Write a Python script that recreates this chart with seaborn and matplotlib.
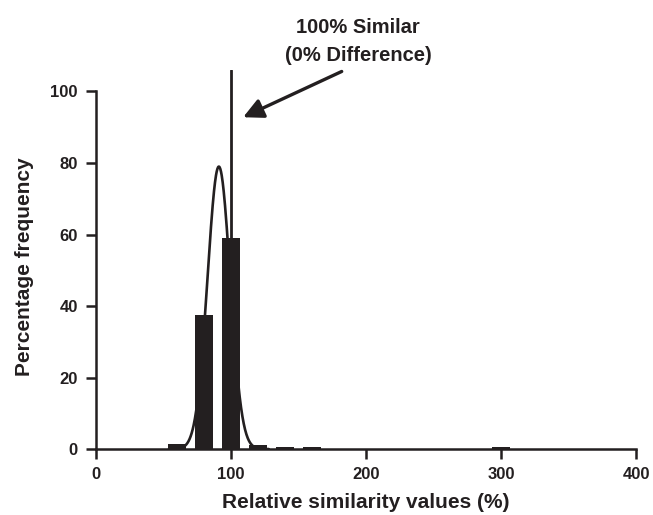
import numpy as np
import pandas as pd
import seaborn as sns
import matplotlib.pyplot as plt

# histogram bins (centres, %) and percentage frequency
bin_centres = [60, 80, 100, 120, 140, 160, 300]
pct_freq = [1.5, 37.5, 59.0, 1.1, 0.7, 0.7, 0.7]

# gaussian fit drawn over the bars (peak height, centre, sd)
fit_peak = 79.0
fit_centre = 91.0
fit_sd = 8.4

x_ticks = [0, 100, 200, 300, 400]
y_ticks = [0, 20, 40, 60, 80, 100]

INK = '#231f20'

sns.set_theme(style='ticks')
plt.rcParams['font.family'] = ['Liberation Sans', 'DejaVu Sans']
plt.rcParams['font.weight'] = 'bold'

df = pd.DataFrame({'centre': bin_centres, 'freq': pct_freq})

fig = plt.figure(figsize=(6.53, 5.15), dpi=100)
ax = fig.add_axes([0.147, 0.128, 0.827, 0.736])

sns.barplot(data=df, x='centre', y='freq', native_scale=True, width=0.66,
            color=INK, saturation=1, linewidth=0, ax=ax)

fit_x = np.linspace(54, 128, 300)
fit_y = fit_peak * np.exp(-(fit_x - fit_centre) ** 2 / (2 * fit_sd ** 2))
sns.lineplot(x=fit_x, y=fit_y, color=INK, lw=1.9, ax=ax)

# 100% reference line
ax.axvline(100, ymin=0, ymax=1, color=INK, lw=2)

ax.text(194, 114, '100% Similar\n(0% Difference)', ha='center', va='center',
        fontsize=14.5, fontweight='bold', linespacing=1.65, color=INK, clip_on=False)
ax.annotate('', xy=(109, 92.8), xytext=(182, 105.6), textcoords='data',
            annotation_clip=False,
            arrowprops=dict(arrowstyle='-|>', mutation_scale=30, lw=2.4, color=INK,
                            shrinkA=0, shrinkB=0))

ax.set_xlim(0, 400)
ax.set_ylim(0, 106)
ax.set_xticks(x_ticks)
ax.set_yticks(y_ticks)
ax.spines['left'].set_bounds(0, 100)
ax.spines['bottom'].set_bounds(0, 400)
sns.despine(ax=ax)
for s in ['left', 'bottom']:
    ax.spines[s].set_linewidth(1.8)
    ax.spines[s].set_color(INK)
ax.tick_params(width=1.8, length=7, color=INK, labelsize=12, pad=6, labelcolor=INK)

ax.set_xlabel('Relative similarity values (%)', fontsize=15, fontweight='bold', color=INK, labelpad=8)
ax.set_ylabel('Percentage frequency', fontsize=15, fontweight='bold', color=INK)
ax.yaxis.set_label_coords(-0.115, 0.48)

fig.savefig('out.png', dpi=100)
